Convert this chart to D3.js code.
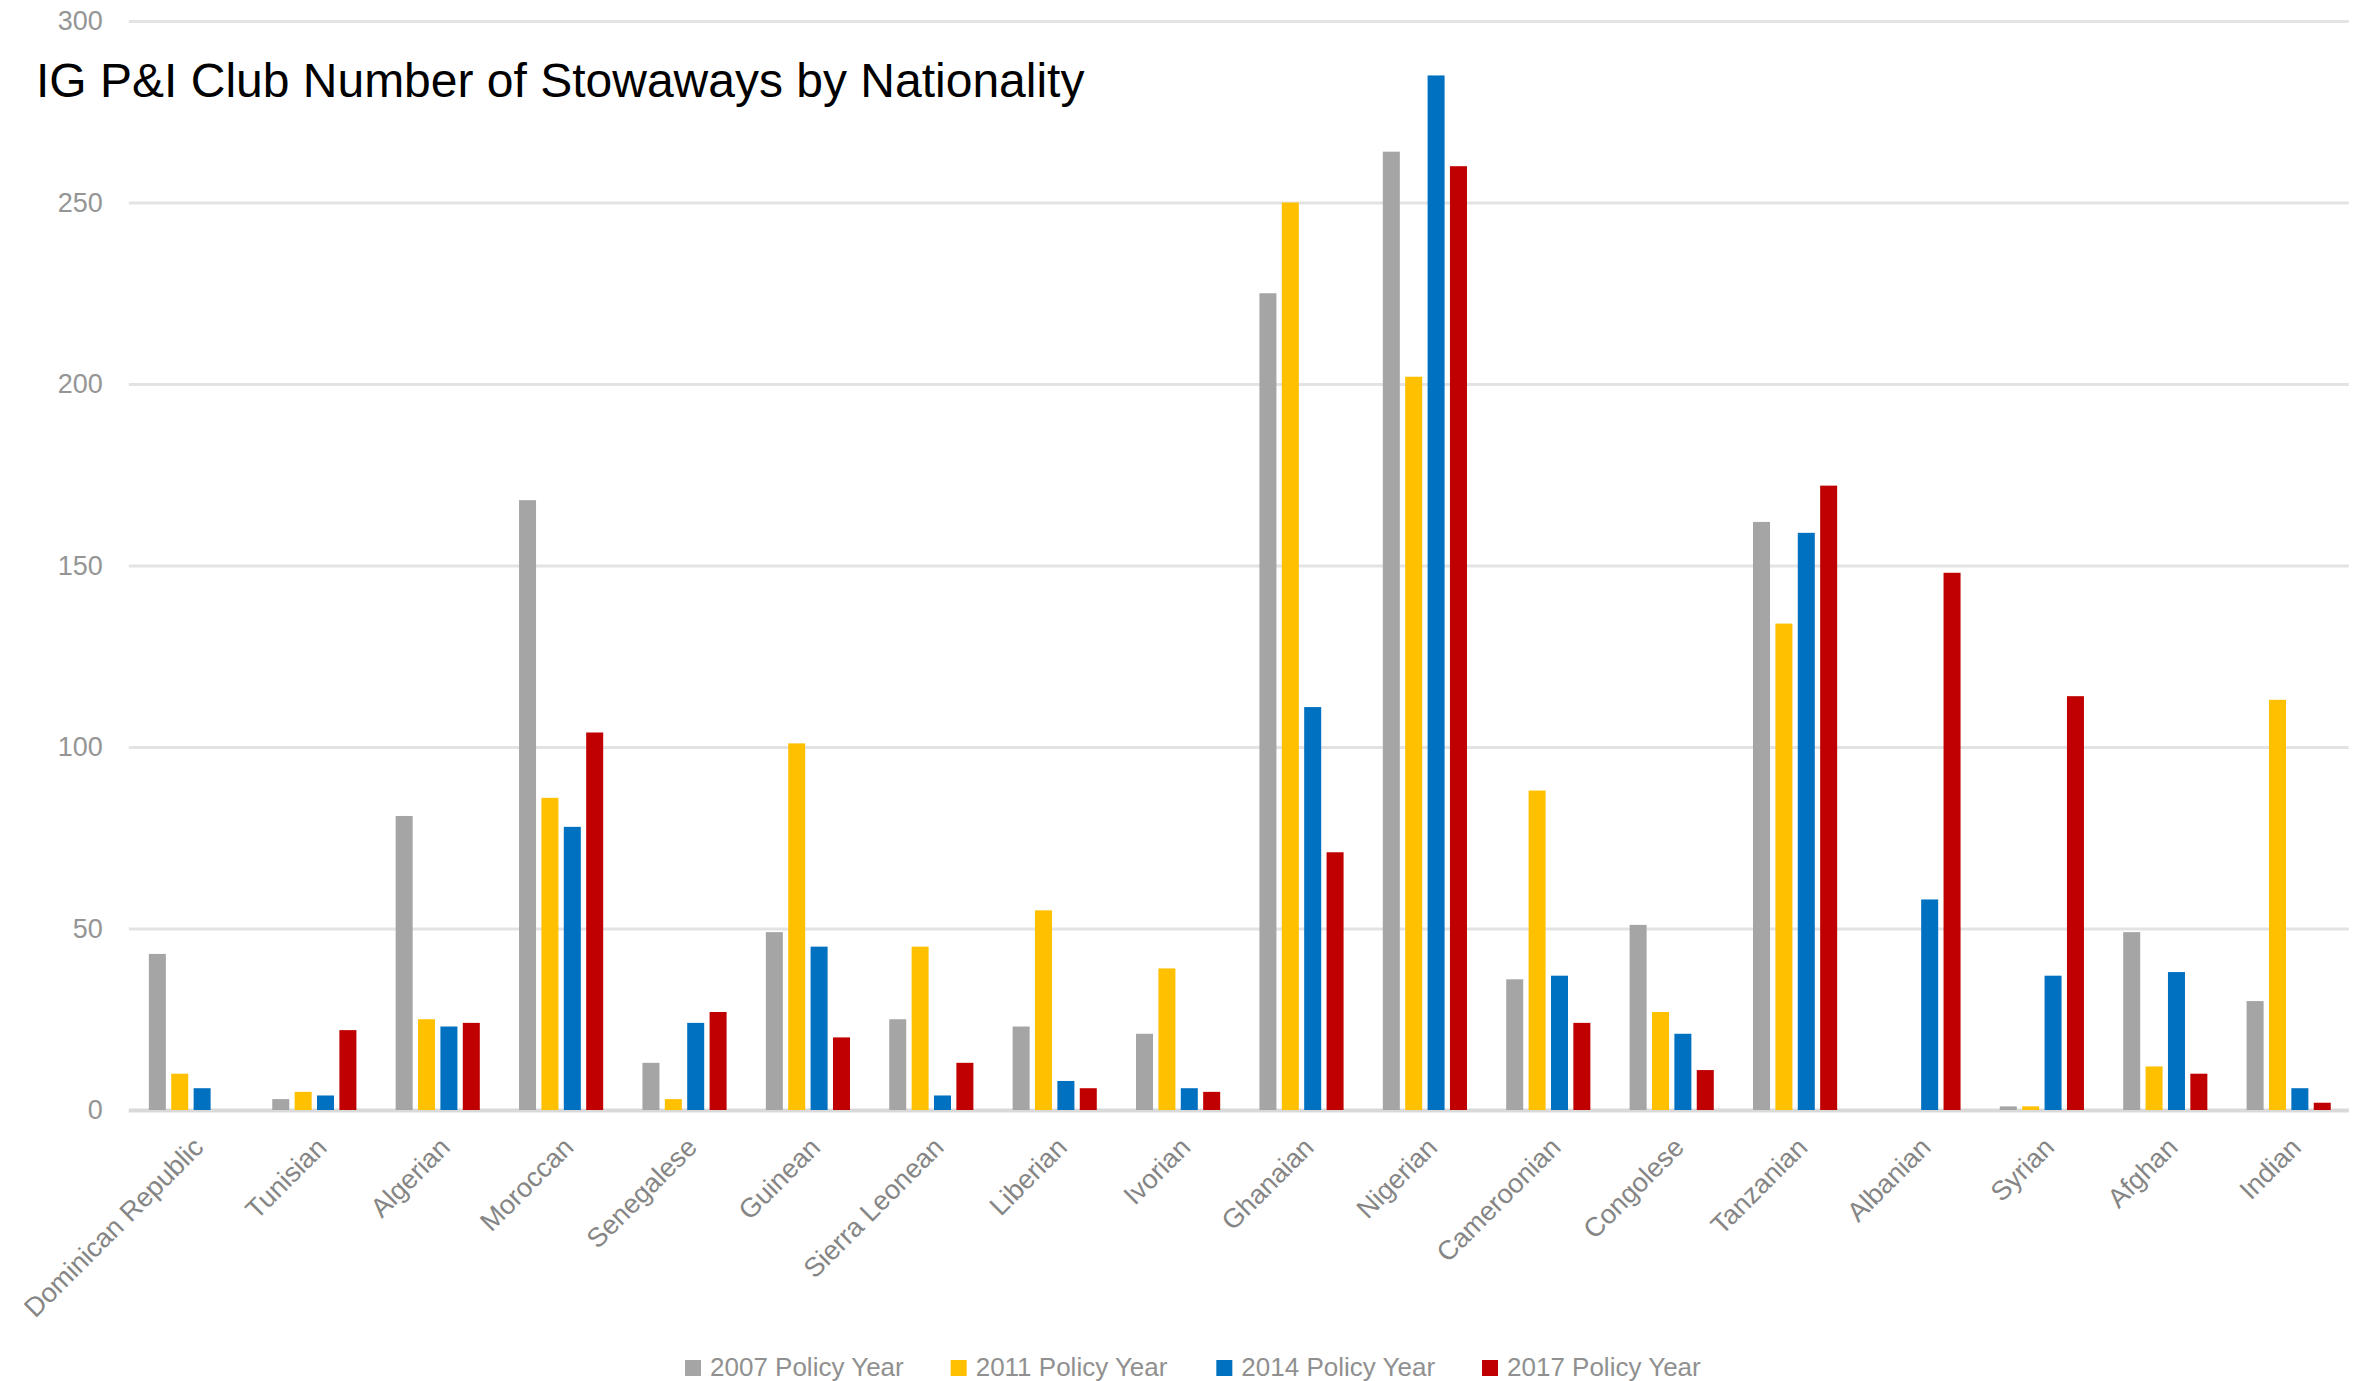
<!DOCTYPE html>
<html>
<head>
<meta charset="utf-8">
<script src="https://cdn.jsdelivr.net/npm/d3@7"></script>
<style>
  html, body { margin: 0; padding: 0; background: #fff; }
  svg { display: block; }
</style>
</head>
<body>
<script>
// Stowaway counts by nationality, per policy year
const categories = ["Dominican Republic", "Tunisian", "Algerian", "Moroccan", "Senegalese", "Guinean",
  "Sierra Leonean", "Liberian", "Ivorian", "Ghanaian", "Nigerian", "Cameroonian", "Congolese",
  "Tanzanian", "Albanian", "Syrian", "Afghan", "Indian"];

const seriesNames = ["2007 Policy Year", "2011 Policy Year", "2014 Policy Year", "2017 Policy Year"];
const seriesColors = ["#a5a5a5", "#ffc000", "#0070c0", "#c00000"];

const values2007 = [43, 3, 81, 168, 13, 49, 25, 23, 21, 225, 264, 36, 51, 162, 0, 1, 49, 30];
const values2011 = [10, 5, 25, 86, 3, 101, 45, 55, 39, 250, 202, 88, 27, 134, 0, 1, 12, 113];
const values2014 = [6, 4, 23, 78, 24, 45, 4, 8, 6, 111, 285, 37, 21, 159, 58, 37, 38, 6];
const values2017 = [0, 22, 24, 104, 27, 20, 13, 6, 5, 71, 260, 24, 11, 172, 148, 114, 10, 2];

const yTicks = [0, 50, 100, 150, 200, 250, 300];
const titleText = "IG P&I Club Number of Stowaways by Nationality";

const seriesValues = [values2007, values2011, values2014, values2017];

const W = 2371, H = 1381;
const plot = { left: 128.8, right: 2350.8, top: 21, bottom: 1110 };
const labelFont = "'Liberation Sans', Arial, sans-serif";

const svg = d3.select("body").append("svg")
  .attr("width", W).attr("height", H)
  .attr("viewBox", `0 0 ${W} ${H}`);

const x0 = d3.scaleBand()
  .domain(categories)
  .range([plot.left, plot.right])
  .paddingInner(0.318)
  .paddingOuter(0.1625);

const x1 = d3.scaleBand()
  .domain(seriesNames)
  .range([0, x0.bandwidth()])
  .paddingInner(0.24)
  .paddingOuter(0);

const y = d3.scaleLinear()
  .domain([0, 300])
  .range([plot.bottom, plot.top]);

// Horizontal gridlines and value labels
const yAxis = d3.axisLeft(y)
  .tickValues(yTicks)
  .tickSize(-(plot.right - plot.left - 2))
  .tickPadding(26)
  .tickFormat(d3.format("d"));

const gy = svg.append("g")
  .attr("transform", `translate(${plot.left},0)`)
  .call(yAxis);
gy.select(".domain").remove();
gy.selectAll(".tick line")
  .attr("stroke", d => d === 0 ? "#d9d9d9" : "#e3e3e3")
  .attr("stroke-width", d => d === 0 ? 4 : 3);
gy.selectAll(".tick text")
  .attr("fill", "#959595")
  .style("font-family", labelFont)
  .style("font-size", "27px");

// Grouped bars
const groups = svg.append("g")
  .selectAll("g")
  .data(categories)
  .join("g")
  .attr("transform", d => `translate(${x0(d)},0)`);

groups.selectAll("rect")
  .data((c, i) => seriesNames.map((s, k) => ({ series: s, k, value: seriesValues[k][i] })))
  .join("rect")
  .filter(d => d.value > 0)
  .attr("x", d => x1(d.series))
  .attr("width", x1.bandwidth())
  .attr("y", d => y(d.value))
  .attr("height", d => y(0) - y(d.value))
  .attr("fill", d => seriesColors[d.k]);

// Category labels, rotated
const xAxis = d3.axisBottom(x0).tickSize(0).tickPadding(0);
const gx = svg.append("g")
  .attr("transform", `translate(0,${plot.bottom})`)
  .call(xAxis);
gx.select(".domain").remove();
gx.selectAll(".tick text")
  .attr("fill", "#858585")
  .style("font-family", labelFont)
  .style("font-size", "27px")
  .attr("text-anchor", "end")
  .attr("dy", null)
  .attr("y", 0)
  .attr("transform", "translate(14,39) rotate(-45)");

// Title
svg.append("text")
  .attr("x", 36)
  .attr("y", 97)
  .attr("fill", "#000")
  .style("font-family", labelFont)
  .style("font-size", "48px")
  .text(titleText);

// Legend
const legendX = d3.scalePoint()
  .domain(seriesNames)
  .range([685, 1482]);

const legend = svg.append("g")
  .selectAll("g")
  .data(seriesNames)
  .join("g")
  .attr("transform", d => `translate(${legendX(d)},1360)`);

legend.append("rect")
  .attr("width", 16).attr("height", 16)
  .attr("fill", (d, i) => seriesColors[i]);

legend.append("text")
  .attr("x", 25)
  .attr("y", 16)
  .attr("fill", "#909090")
  .style("font-family", labelFont)
  .style("font-size", "26px")
  .text(d => d);
</script>
</body>
</html>
